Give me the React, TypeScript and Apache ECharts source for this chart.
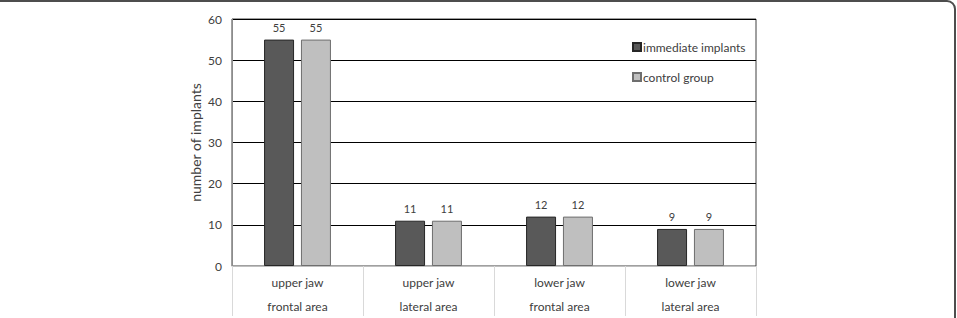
import React, { useEffect, useRef } from "react";
import * as echarts from "echarts";

const categories = ["upper jaw\nfrontal area", "upper jaw\nlateral area", "lower jaw\nfrontal area", "lower jaw\nlateral area"];
const seriesNames = ["immediate implants", "control group"];
const immediateValues = [55, 11, 12, 9];
const controlValues = [55, 11, 12, 9];

const FONT = "Lato, 'Open Sans', sans-serif";

export default function App() {
  const ref = useRef<HTMLDivElement>(null);
  useEffect(() => {
    if (!ref.current) return;
    const chart = echarts.init(ref.current, null, { renderer: "svg" });
    chart.setOption({
      animation: false,
      backgroundColor: "#ffffff",
      textStyle: { fontFamily: FONT },
      grid: {
        left: 232,
        right: 201,
        top: 19,
        bottom: 50,
        show: true,
        borderColor: "#404040",
        borderWidth: 1,
      },
      legend: {
        orient: "vertical",
        left: 632,
        top: 41,
        padding: 0,
        itemWidth: 8,
        itemHeight: 8,
        itemGap: 18,
        icon: "rect",
        textStyle: { fontSize: 12, color: "#404040", fontFamily: FONT, padding: [0, 0, 0, -3] },
        data: seriesNames,
      },
      xAxis: {
        type: "category",
        data: categories,
        axisLine: { show: true, lineStyle: { color: "#bfbfbf", width: 1 } },
        axisTick: { show: true, length: 50, lineStyle: { color: "#d9d9d9" } },
        axisLabel: {
          color: "#404040",
          fontSize: 12,
          lineHeight: 24,
          margin: 4,
          fontFamily: FONT,
        },
      },
      yAxis: {
        type: "value",
        min: 0,
        max: 60,
        interval: 10,
        name: "number of implants",
        nameLocation: "middle",
        nameGap: 30,
        nameMoveOverlap: false,
        nameTextStyle: { color: "#404040", fontSize: 14, fontFamily: FONT },
        axisLine: { show: true, lineStyle: { color: "#8c8c8c" } },
        axisTick: { show: false },
        axisLabel: { color: "#404040", fontSize: 12, margin: 10, fontFamily: FONT },
        splitLine: { show: true, lineStyle: { color: "#000000", width: 1 } },
      },
      series: [
        {
          name: seriesNames[0],
          type: "bar",
          data: immediateValues,
          barWidth: 30,
          barGap: "23%",
          itemStyle: { color: "#595959", borderColor: "#262626", borderWidth: 1 },
          label: { show: true, position: "top", distance: 7, color: "#404040", fontSize: 11, fontFamily: FONT },
        },
        {
          name: seriesNames[1],
          type: "bar",
          data: controlValues,
          barWidth: 30,
          itemStyle: { color: "#bfbfbf", borderColor: "#6e6e6e", borderWidth: 1 },
          label: { show: true, position: "top", distance: 7, color: "#404040", fontSize: 11, fontFamily: FONT },
        },
      ],
      graphic: [
        {
          type: "rect",
          shape: { x: -20, y: 1, width: 975, height: 400, r: 8 },
          style: { fill: "none", stroke: "#4d4d4d", lineWidth: 2 },
          silent: true,
          z: 100,
        },
      ],
    });
    return () => chart.dispose();
  }, []);
  return (
    <div
      ref={ref}
      style={{ position: "fixed", left: 0, top: 0, width: 957, height: 318 }}
    />
  );
}
